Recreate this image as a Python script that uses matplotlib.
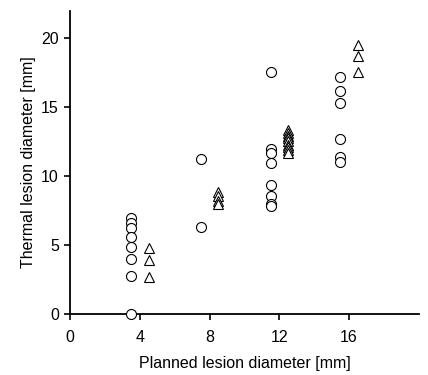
import matplotlib
matplotlib.use("Agg")
import matplotlib.pyplot as plt

plt.rcParams["font.family"] = ["Liberation Sans", "DejaVu Sans"]

# Circles: thermal lesion diameter, plotted at planned - 0.5
circle_x = [3.5] * 8 + [7.5] * 2 + [11.5] * 8 + [15.5] * 6
circle_y = [6.95, 6.6, 6.25, 5.6, 4.85, 4.0, 2.8, 0.0,
            11.25, 6.3,
            17.6, 11.95, 11.66, 10.98, 9.4, 8.55, 7.97, 7.85,
            17.2, 16.2, 15.3, 12.7, 11.4, 11.05]

# Triangles: plotted at planned + 0.5
tri_x = [4.5] * 3 + [8.5] * 4 + [12.5] * 9 + [16.5] * 3
tri_y = [4.83, 3.93, 2.72,
         8.9, 8.6, 8.2, 8.0,
         13.35, 13.15, 12.95, 12.75, 12.55, 12.3, 12.1, 11.9, 11.7,
         19.55, 18.75, 17.6]

xticks = [0, 4, 8, 12, 16]
yticks = [0, 5, 10, 15, 20]

fig = plt.figure(figsize=(4.28, 3.75), dpi=100)
ax = fig.add_axes([0.1636, 0.162, 0.815, 0.809])

ax.plot(circle_x, circle_y, linestyle="none", marker="o", markersize=7.2,
        markerfacecolor="white", markeredgecolor="black",
        markeredgewidth=0.8, clip_on=False, zorder=3)
ax.plot(tri_x, tri_y, linestyle="none", marker="^", markersize=7.2,
        markerfacecolor="white", markeredgecolor="black",
        markeredgewidth=0.8, clip_on=False, zorder=3)

ax.set_xlim(0, 20)
ax.set_ylim(0, 22)
ax.set_xticks(xticks)
ax.set_yticks(yticks)

for side in ("top", "right"):
    ax.spines[side].set_visible(False)
for side in ("left", "bottom"):
    ax.spines[side].set_linewidth(1.3)

ax.tick_params(direction="out", length=4.5, width=1.2, labelsize=11.5)
ax.tick_params(axis="x", pad=7)
ax.tick_params(axis="y", pad=3.5)
ax.set_xlabel("Planned lesion diameter [mm]", fontsize=11.5, labelpad=8)
ax.set_ylabel("Thermal lesion diameter [mm]", fontsize=11.5, labelpad=4)

fig.savefig("out.png", dpi=100)
